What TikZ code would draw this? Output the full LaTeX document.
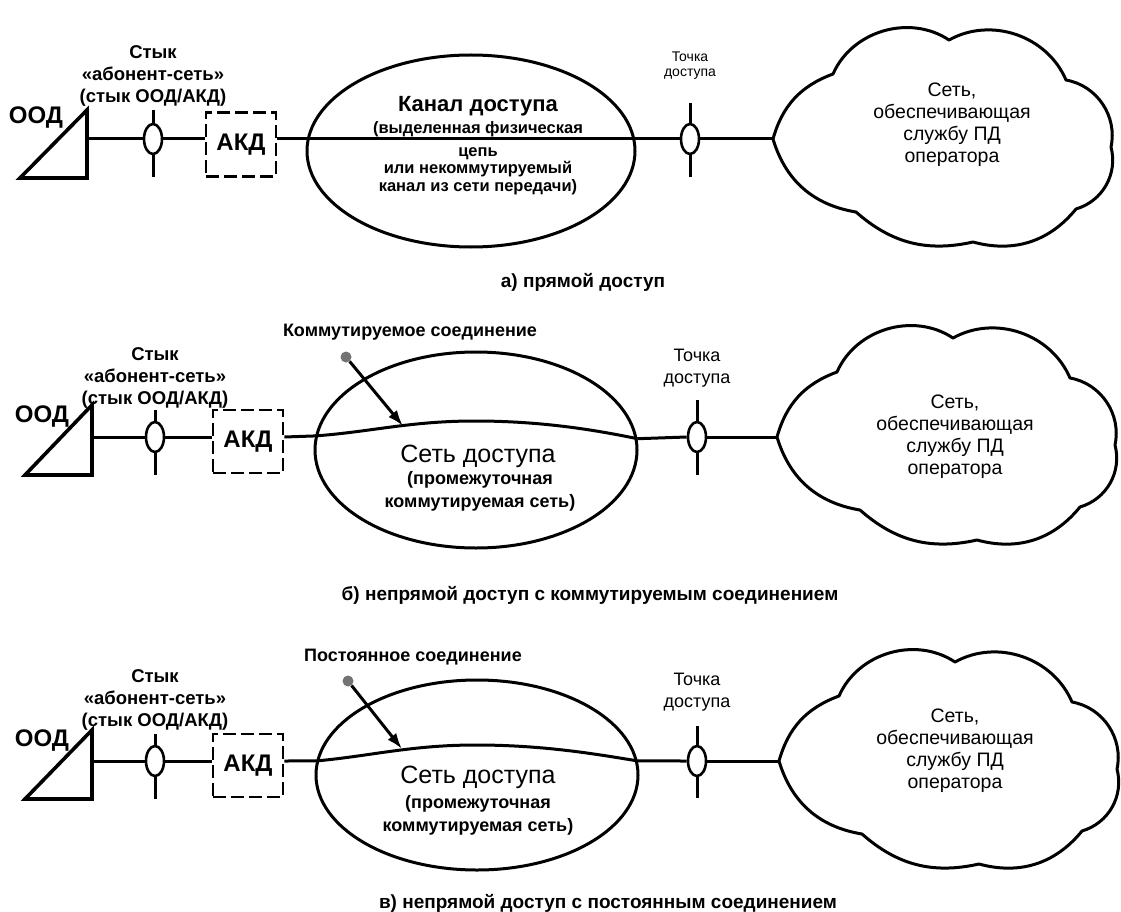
\documentclass[tikz,border=0pt]{standalone}
\usepackage{fontspec}
\setmainfont{Liberation Sans}
\usetikzlibrary{shapes.geometric,arrows.meta}
\begin{document}
\begin{tikzpicture}[x=1pt,y=-1pt,
  ln/.style={line width=3pt},
  tri/.style={line width=3.6pt,line join=miter},
  tick/.style={line width=3pt},
  cl/.style={line width=3pt,line join=round},
  oval/.style={ellipse,draw,line width=2.6pt,fill=white,minimum width=18pt,minimum height=30pt,inner sep=0pt},
  akd/.style={rectangle,draw,dash pattern=on 13pt off 5pt,line width=2.6pt,minimum width=70pt,minimum height=64pt,inner sep=0pt,font=\bfseries\fontsize{24}{24}\selectfont},
  net/.style={ellipse,draw,line width=3pt,inner sep=0pt},
  dotn/.style={circle,fill=black!55,minimum size=11pt,inner sep=0pt},
  arr/.style={line width=3pt,-{Latex[length=16pt,width=11pt]}},
  big/.style={inner sep=0pt,font=\bfseries\fontsize{24}{24}\selectfont},
  styk/.style={align=center,inner sep=0pt,font=\bfseries\fontsize{18.5}{22}\selectfont},
  kanal/.style={inner sep=0pt,font=\bfseries\fontsize{22}{22}\selectfont},
  subA/.style={align=center,inner sep=0pt,font=\bfseries\fontsize{16.5}{17.5}\selectfont},
  setd/.style={inner sep=0pt,font=\fontsize{25}{25}\selectfont},
  subB/.style={align=center,inner sep=0pt,font=\bfseries\fontsize{18}{23}\selectfont},
  apl/.style={align=center,inner sep=0pt,font=\fontsize{18}{22}\selectfont},
  aplA/.style={align=center,inner sep=0pt,font=\fontsize{14}{15}\selectfont},
  cltxt/.style={align=center,inner sep=0pt,font=\fontsize{19.5}{22}\selectfont},
  captxt/.style={inner sep=0pt,font=\bfseries\fontsize{19}{19}\selectfont},
  conn/.style={inner sep=0pt,font=\bfseries\fontsize{18}{18}\selectfont},
  cloudpath/.pic={
    \draw[cl] (777,437) to[bend left=27] (837,372) to[bend left=50] (953,338)
      to[bend left=48] (1070,378) to[bend left=46] (1115,445) to[bend left=44] (1080,507)
      to[bend left=33] (977,540) to[bend left=27] (860,510) to[bend left=32] (777,437) -- cycle;
  }
]
\useasboundingbox (0,0) rectangle (1121,912);

% ================= Row a =================
\coordinate (triA) at (87,139);
\draw[tri] (20,178) -- (87,110) -- (87,178) -- cycle;
\node[big] (oodA) at (36,118) {ООД};
\coordinate (ifAt) at (153,110);
\coordinate (ifAb) at (153,177);
\draw[tick] (ifAt) -- (ifAb);
\node[oval] (ifA) at (153,139) {};
\node[akd] (akdA) at (241,144.5) {АКД};
\node[net,minimum width=328pt,minimum height=192pt] (netA) at (471,151) {};
\coordinate (apAt) at (690,103);
\coordinate (apAb) at (690,177);
\draw[tick] (apAt) -- (apAb);
\node[oval] (apA) at (690,139) {};
\coordinate (clA) at (773,139);
\pic at (-4,-298) {cloudpath};
\draw[ln] (triA) -- (ifA.west);
\draw[ln] (ifA.east) -- (akdA.west |- ifA.center);
\draw[ln] (akdA.east |- ifA.center) -- (apA.west);
\draw[ln] (apA.east) -- (clA);
\node[styk] (stykA) at (153,76) {Стык\\«абонент-сеть»\\(стык ООД/АКД)};
\node[kanal] (kanA) at (478,106) {Канал доступа};
\node[subA] (subA1) at (478,129) {(выделенная физическая};
\node[subA] (subA2) at (478,171) {цепь\\или некоммутируемый\\канал из сети передачи)};
\node[aplA] (aptA) at (690,66) {Точка\\доступа};
\node[cltxt] (cltA) at (952,125) {Сеть,\\обеспечивающая\\службу ПД\\оператора};
\node[captxt] (capA) at (583,282) {а) прямой доступ};

% ================= Row b =================
\coordinate (triB) at (92,437);
\draw[tri] (25,475) -- (92,405) -- (92,475) -- cycle;
\node[big] (oodB) at (42,417) {ООД};
\coordinate (ifBt) at (155,410);
\coordinate (ifBb) at (155,475);
\draw[tick] (ifBt) -- (ifBb);
\node[oval] (ifB) at (155,437) {};
\node[akd,minimum height=63pt] (akdB) at (248,441.5) {АКД};
\node[net,minimum width=322pt,minimum height=196pt] (netB) at (476,450) {};
\coordinate (apBt) at (697,400);
\coordinate (apBb) at (697,475);
\draw[tick] (apBt) -- (apBb);
\node[oval] (apB) at (697,437) {};
\coordinate (clB) at (777,437);
\pic at (0,0) {cloudpath};
\draw[ln] (triB) -- (ifB.west);
\draw[ln] (ifB.east) -- (akdB.west |- ifB.center);
\draw[ln] (akdB.east |- ifB.center) -- (netB.175.35);
\draw[ln] (netB.175.35) .. controls (370,432) and (410,421) .. (475,421)
  .. controls (545,421) and (600,431) .. (netB.4.65);
\draw[ln] (netB.4.65) -- (apB.west);
\draw[ln] (apB.east) -- (clB);
\node[styk] (stykB) at (155,378) {Стык\\«абонент-сеть»\\(стык ООД/АКД)};
\node[conn] (connB) at (410,332) {Коммутируемое соединение};
\node[dotn] (dotB) at (346,357) {};
\coordinate (tipB) at (403,426);
\draw[arr] (dotB) -- (tipB);
\node[setd] (setB) at (478,456) {Сеть доступа};
\node[subB] (subB) at (480,491) {(промежуточная\\коммутируемая сеть)};
\node[apl] (aptB) at (697,368) {Точка\\доступа};
\node[cltxt] (cltB) at (955,437) {Сеть,\\обеспечивающая\\службу ПД\\оператора};
\node[captxt] (capB) at (590,595) {б) непрямой доступ с коммутируемым соединением};

% ================= Row c =================
\coordinate (triC) at (92,761);
\draw[tri] (25,799) -- (92,730) -- (92,799) -- cycle;
\node[big] (oodC) at (42,741) {ООД};
\coordinate (ifCt) at (155,734);
\coordinate (ifCb) at (155,799);
\draw[tick] (ifCt) -- (ifCb);
\node[oval] (ifC) at (155,761) {};
\node[akd,minimum height=63pt] (akdC) at (248,765.5) {АКД};
\node[net,minimum width=322pt,minimum height=190pt] (netC) at (477,775) {};
\coordinate (apCt) at (697,726);
\coordinate (apCb) at (697,798);
\draw[tick] (apCt) -- (apCb);
\node[oval] (apC) at (697,761) {};
\coordinate (clC) at (779,761);
\pic at (2,324) {cloudpath};
\draw[ln] (triC) -- (ifC.west);
\draw[ln] (ifC.east) -- (akdC.west |- ifC.center);
\draw[ln] (akdC.east |- ifC.center) -- (netC.175);
\draw[ln] (netC.175) .. controls (371,756) and (411,745) .. (476,745)
  .. controls (546,745) and (601,755) .. (netC.5);
\draw[ln] (netC.5) -- (apC.west);
\draw[ln] (apC.east) -- (clC);
\node[styk] (stykC) at (155,700) {Стык\\«абонент-сеть»\\(стык ООД/АКД)};
\node[conn] (connC) at (413,657) {Постоянное соединение};
\node[dotn] (dotC) at (348,681) {};
\coordinate (tipC) at (402,749);
\draw[arr] (dotC) -- (tipC);
\node[setd] (setC) at (478,777) {Сеть доступа};
\node[subB] (subC) at (478,815) {(промежуточная\\коммутируемая сеть)};
\node[apl] (aptC) at (697,692) {Точка\\доступа};
\node[cltxt] (cltC) at (955,751) {Сеть,\\обеспечивающая\\службу ПД\\оператора};
\node[captxt] (capC) at (608,903) {в) непрямой доступ с постоянным соединением};
\end{tikzpicture}
\end{document}
